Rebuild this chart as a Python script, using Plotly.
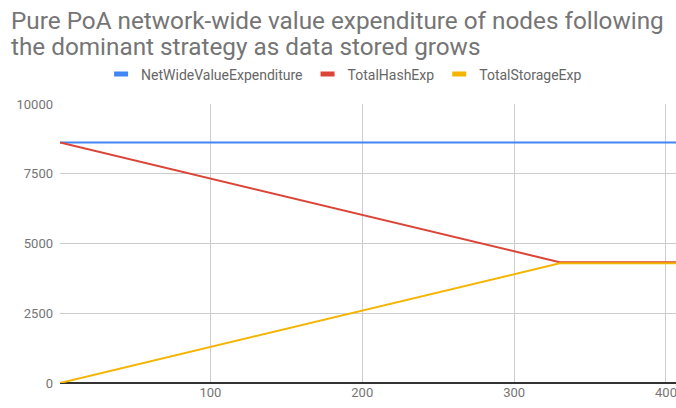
import plotly.graph_objects as go

# Data
x_vals = [1, 330, 407]
net_wide = [8620, 8620, 8620]
total_hash = [8620, 4330, 4330]
total_storage = [0, 4290, 4290]

series_names = ["NetWideValueExpenditure", "TotalHashExp", "TotalStorageExp"]
colors = ["#4285F4", "#DB4437", "#F4B400"]

x_ticks = [100, 200, 300, 400]
y_ticks = [0, 2500, 5000, 7500, 10000]
y_tick_text = ["0", "2500", "5000", "7500", "10000"]

title_lines = ["Pure PoA network-wide value expenditure of nodes following",
               "the dominant strategy as data stored grows"]

PLOT_TOP = 104
PLOT_H = 279


def py_to_paper(py):
    return 1 + (PLOT_TOP - py) / PLOT_H


fig = go.Figure()
for name, ys, c in zip(series_names, [net_wide, total_hash, total_storage], colors):
    fig.add_trace(go.Scatter(x=x_vals, y=ys, mode="lines", name=name,
                             line=dict(color=c, width=2), showlegend=False))
    # legend swatch (short thick bar like the reference)
    fig.add_trace(go.Scatter(x=[None], y=[None], mode="markers", name=name,
                             marker=dict(symbol="line-ew", size=10,
                                         line=dict(color=c, width=6))))

annotations = []
for i, line in enumerate(title_lines):
    annotations.append(dict(text=line, xref="paper", yref="paper",
                            x=-0.082, y=py_to_paper(4 + 26 * i),
                            xanchor="left", yanchor="top", align="left",
                            showarrow=False,
                            font=dict(size=24.3, color="#757575",
                                      family="Roboto, Arial, sans-serif")))

fig.update_layout(
    width=676, height=408,
    margin=dict(l=60, r=0, t=PLOT_TOP, b=408 - PLOT_TOP - PLOT_H),
    paper_bgcolor="white", plot_bgcolor="white",
    font=dict(family="Roboto, Arial, sans-serif", color="#757575"),
    legend=dict(orientation="h", xref="container", yref="container",
                x=0.509, xanchor="center", y=1 - 74.5 / 408, yanchor="middle",
                font=dict(size=14, color="#666666"), itemwidth=30),
    xaxis=dict(range=[1, 406.6], tickvals=x_ticks, showgrid=True, gridcolor="#cccccc",
               zeroline=False, showline=False, ticks="", ticklabeloverflow="allow",
               tickfont=dict(size=13, color="#757575")),
    yaxis=dict(range=[0, 10000], tickvals=y_ticks, ticktext=y_tick_text,
               showgrid=True, gridcolor="#cccccc",
               zeroline=True, zerolinecolor="#333333", zerolinewidth=2,
               showline=False, ticks="", tickfont=dict(size=13, color="#757575"),
               ticklabelstandoff=6),
    annotations=annotations,
)

fig.write_html("out.html", config={"displayModeBar": False},
               post_script="document.body.style.margin='0px';")
